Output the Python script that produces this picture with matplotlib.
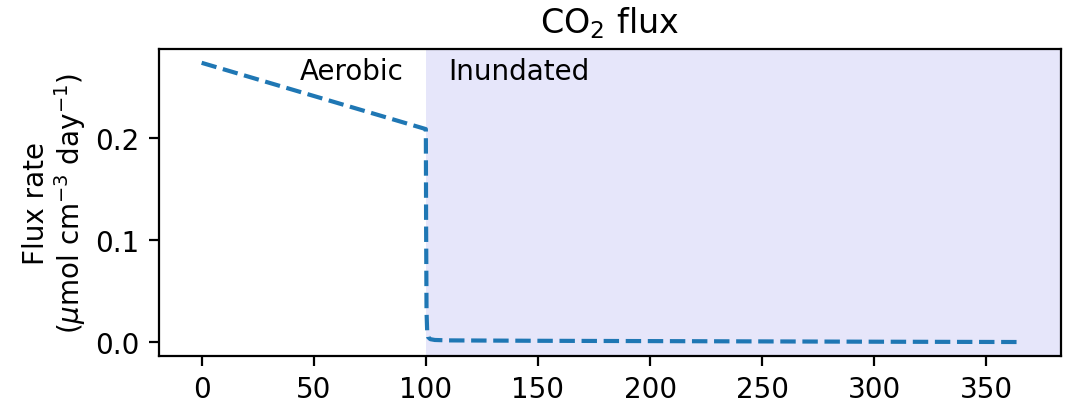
import matplotlib.pyplot as plt

# daily CO2 flux before and after inundation at day 100
days = [0, 20, 40, 60, 80, 100, 100.1, 100.3, 100.6, 101, 102, 104, 110, 150, 200, 250, 300, 365]
flux = [0.274, 0.261, 0.248, 0.235, 0.222, 0.209, 0.12, 0.03, 0.01, 0.005, 0.003,
        0.0022, 0.0018, 0.0014, 0.0011, 0.0008, 0.0005, 0.0002]
flood_day = 100

fig = plt.figure(figsize=(5.355, 2.01), dpi=200)
ax = fig.add_axes([0.1485, 0.112, 0.8420, 0.764])

ax.plot(days, flux, '--', color='C0', linewidth=1.5)

ax.set_xlim(-19, 383.2)
ax.axvspan(flood_day, 383.2, color='lavender', zorder=0, linewidth=0)

ax.text(flood_day - 10, 0.266, 'Aerobic', ha='right', va='center', fontsize=10)
ax.text(flood_day + 10, 0.266, 'Inundated', ha='left', va='center', fontsize=10)

ax.set_yticks([0.0, 0.1, 0.2])
ax.set_ylabel('Flux rate\n($\\mu$mol cm$^{-3}$ day$^{-1}$)', labelpad=2.5, linespacing=1.1)
ax.set_title('CO$_2$ flux')

fig.savefig('out.png', dpi=200)
plt.close(fig)
